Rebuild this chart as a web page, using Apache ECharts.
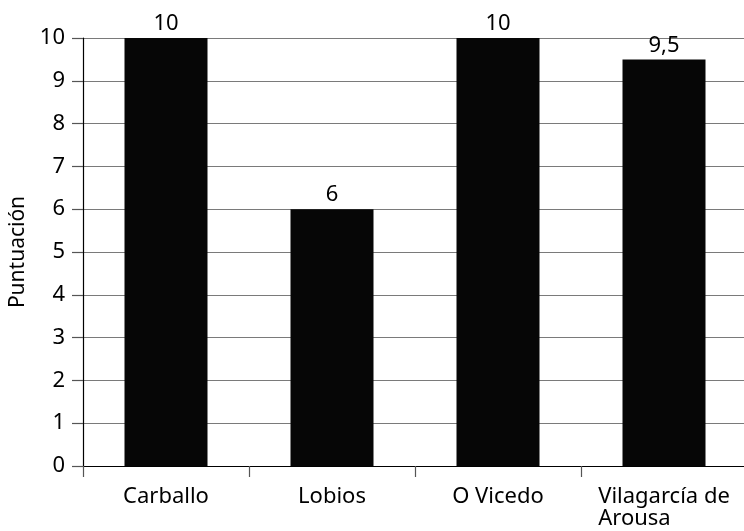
<!DOCTYPE html>
<html>
<head>
<meta charset="utf-8">
<script src="https://cdn.jsdelivr.net/npm/echarts@6/dist/echarts.min.js"></script>
<style>
  html, body { margin: 0; padding: 0; background: #fff; }
  #chart { width: 744px; height: 531px; }
</style>
</head>
<body>
<div id="chart"></div>
<script>
// Municipalities and their scores
const categories = ['Carballo', 'Lobios', 'O Vicedo', 'Vilagarcía de\nArousa'];
const scores = [10, 6, 10, 9.5];
const yTicks = [0, 1, 2, 3, 4, 5, 6, 7, 8, 9, 10];

const FONT = 'Noto Sans';
const FS = 22;

const chart = echarts.init(document.getElementById('chart'), null, { renderer: 'canvas' });

chart.setOption({
  animation: false,
  backgroundColor: '#ffffff',
  grid: { left: 83, right: -3, top: 38, bottom: 65, outerBoundsMode: 'none', containLabel: false },
  xAxis: {
    type: 'category',
    data: categories,
    boundaryGap: true,
    axisLine: { show: true, lineStyle: { color: '#000', width: 1.2 } },
    axisTick: { show: true, length: 11, alignWithLabel: false, lineStyle: { color: '#555', width: 1.2 } },
    axisLabel: {
      margin: 20,
      interval: 0,
      color: '#000',
      fontFamily: FONT,
      fontSize: FS,
      lineHeight: 22,
      formatter: function (v) {
        return v.split('\n').map(function (s) { return '{a|' + s + '}'; }).join('\n');
      },
      rich: { a: { align: 'left', fontFamily: FONT, fontSize: FS, color: '#000', lineHeight: 22 } }
    }
  },
  yAxis: {
    type: 'value',
    min: yTicks[0],
    max: yTicks[yTicks.length - 1],
    interval: 1,
    name: 'Puntuación',
    nameLocation: 'middle',
    nameGap: 53,
    nameRotate: 90,
    nameTextStyle: { color: '#000', fontFamily: FONT, fontSize: 21 },
    axisLine: { show: true, lineStyle: { color: '#000', width: 1.2 } },
    axisTick: { show: true, inside: false, length: 11, lineStyle: { color: '#555', width: 1.2 } },
    axisLabel: { margin: 18, color: '#000', fontFamily: FONT, fontSize: FS },
    splitLine: { show: true, lineStyle: { color: '#7a7a7a', width: 1.2 } }
  },
  series: [{
    type: 'bar',
    data: scores,
    barWidth: '50%',
    itemStyle: { color: '#060606' },
    label: {
      show: true,
      position: 'top',
      distance: 3,
      color: '#000',
      fontFamily: FONT,
      fontSize: FS,
      formatter: function (p) { return String(p.value).replace('.', ','); }
    }
  }]
});
</script>
</body>
</html>
